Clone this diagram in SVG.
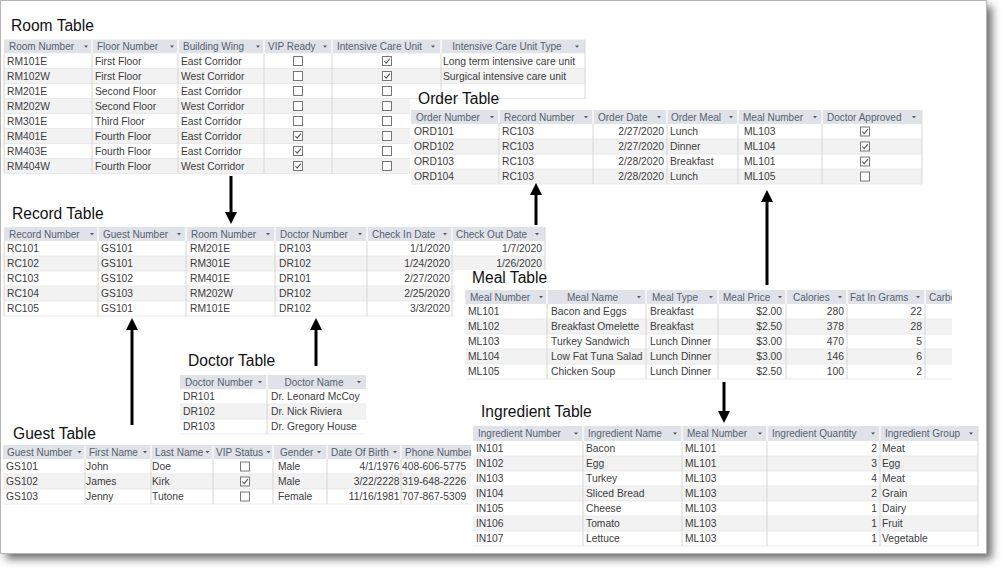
<svg xmlns="http://www.w3.org/2000/svg" xmlns:xlink="http://www.w3.org/1999/xlink" width="1003" height="576" viewBox="0 0 1003 576">
<style>
.ttl{font-family:"Liberation Sans",Arial,sans-serif;font-size:15.6px;fill:#111}
.h{font-family:"Liberation Sans",Arial,sans-serif;font-size:10px;fill:#56606b}
.t{font-family:"Liberation Sans",Arial,sans-serif;font-size:10.3px;fill:#3c3c3c}
.e{text-anchor:end}
.m{text-anchor:middle}
.hd{fill:#DFE3E9}
.r0{fill:#FFFFFF}
.r1{fill:#F2F2F2}
.hs{stroke:#FFFFFF;stroke-width:1.2;fill:none}
.vg{stroke:#D6D6D6;stroke-width:1;fill:none}
.hg{stroke:#E9E9E9;stroke-width:1;fill:none}
.cov{fill:#FFFFFF}
.cn{stroke:#000;stroke-width:3;fill:none;marker-end:url(#ah)}
</style>
<defs>
<filter id="sh" x="-5%" y="-5%" width="115%" height="115%"><feGaussianBlur stdDeviation="4"/></filter>
<marker id="ah" viewBox="0 0 12 12" refX="2" refY="6" markerWidth="12" markerHeight="12" orient="auto" markerUnits="userSpaceOnUse"><path d="M0,0 L12,6 L0,12 z" fill="#000"/></marker>
<path id="dd" d="M-2,-1 L2,-1 L0,1.3 z" fill="#555"/>
<rect id="cb" x="-4.5" y="-4.5" width="9" height="9" fill="#fff" stroke="#767676" stroke-width="1"/>
<g id="cbk"><rect x="-4.5" y="-4.5" width="9" height="9" fill="#fff" stroke="#767676" stroke-width="1"/><path d="M-2.7,0 L-0.8,2.1 L2.9,-2.4" fill="none" stroke="#555" stroke-width="1.1"/></g>
<clipPath id="mealclip"><rect x="455" y="260" width="497" height="130"/></clipPath>
</defs>

<g id="frame">
<rect x="6" y="6" width="986" height="553" fill="#6d6d6d" filter="url(#sh)"/>
<rect x="0.5" y="0.5" width="986" height="553" fill="#fff" stroke="#b5b5b5"/>
</g>

<g id="room-table">
<text class="ttl" x="11" y="31">Room Table</text>
<rect class="hd" x="4" y="39.5" width="581" height="14"/>
<rect class="r0" x="4" y="53.5" width="581" height="15"/>
<rect class="r1" x="4" y="68.5" width="581" height="15"/>
<rect class="r0" x="4" y="83.5" width="581" height="15"/>
<rect class="r1" x="4" y="98.5" width="581" height="15"/>
<rect class="r0" x="4" y="113.5" width="581" height="15"/>
<rect class="r1" x="4" y="128.5" width="581" height="15"/>
<rect class="r0" x="4" y="143.5" width="581" height="15"/>
<rect class="r1" x="4" y="158.5" width="581" height="15"/>
<path class="hs" d="M92,39.5V53.5M178,39.5V53.5M264,39.5V53.5M332,39.5V53.5M441,39.5V53.5"/>
<path class="hg" d="M4,68.5H585M4,83.5H585M4,98.5H585M4,113.5H585M4,128.5H585M4,143.5H585M4,158.5H585M4,173.5H585"/>
<path class="vg" d="M4,53.5V173.5M92,53.5V173.5M178,53.5V173.5M264,53.5V173.5M332,53.5V173.5M441,53.5V173.5M585,39.5V173.5"/>
<text class="h" x="9" y="50.2">Room Number</text><use href="#dd" x="86" y="46.5"/>
<text class="h" x="97" y="50.2">Floor Number</text><use href="#dd" x="172" y="46.5"/>
<text class="h" x="183" y="50.2">Building Wing</text><use href="#dd" x="258" y="46.5"/>
<text class="h" x="268" y="50.2">VIP Ready</text><use href="#dd" x="325" y="46.5"/>
<text class="h" x="337" y="50.2">Intensive Care Unit</text><use href="#dd" x="433" y="46.5"/>
<text class="h m" x="507" y="50.2">Intensive Care Unit Type</text><use href="#dd" x="577" y="46.5"/>
<text class="t" x="7" y="64.7">RM101E</text><text class="t" x="95" y="64.7">First Floor</text><text class="t" x="181" y="64.7">East Corridor</text><use href="#cb" x="298" y="61"/><use href="#cbk" x="387" y="61"/><text class="t" x="443" y="64.7">Long term intensive care unit</text>
<text class="t" x="7" y="79.7">RM102W</text><text class="t" x="95" y="79.7">First Floor</text><text class="t" x="181" y="79.7">West Corridor</text><use href="#cb" x="298" y="76"/><use href="#cbk" x="387" y="76"/><text class="t" x="443" y="79.7">Surgical intensive care unit</text>
<text class="t" x="7" y="94.7">RM201E</text><text class="t" x="95" y="94.7">Second Floor</text><text class="t" x="181" y="94.7">East Corridor</text><use href="#cb" x="298" y="91"/><use href="#cb" x="387" y="91"/>
<text class="t" x="7" y="109.7">RM202W</text><text class="t" x="95" y="109.7">Second Floor</text><text class="t" x="181" y="109.7">West Corridor</text><use href="#cb" x="298" y="106"/><use href="#cb" x="387" y="106"/>
<text class="t" x="7" y="124.7">RM301E</text><text class="t" x="95" y="124.7">Third Floor</text><text class="t" x="181" y="124.7">East Corridor</text><use href="#cb" x="298" y="121"/><use href="#cb" x="387" y="121"/>
<text class="t" x="7" y="139.7">RM401E</text><text class="t" x="95" y="139.7">Fourth Floor</text><text class="t" x="181" y="139.7">East Corridor</text><use href="#cbk" x="298" y="136"/><use href="#cb" x="387" y="136"/>
<text class="t" x="7" y="154.7">RM403E</text><text class="t" x="95" y="154.7">Fourth Floor</text><text class="t" x="181" y="154.7">East Corridor</text><use href="#cbk" x="298" y="151"/><use href="#cb" x="387" y="151"/>
<text class="t" x="7" y="169.7">RM404W</text><text class="t" x="95" y="169.7">Fourth Floor</text><text class="t" x="181" y="169.7">West Corridor</text><use href="#cbk" x="298" y="166"/><use href="#cb" x="387" y="166"/>
</g>

<g id="order-table">
<rect class="cov" x="410" y="99" width="513" height="86"/>
<text class="ttl" x="418" y="103.5">Order Table</text>
<rect class="hd" x="411" y="110" width="511" height="14"/>
<rect class="r0" x="411" y="124" width="511" height="15"/>
<rect class="r1" x="411" y="139" width="511" height="15"/>
<rect class="r0" x="411" y="154" width="511" height="15"/>
<rect class="r1" x="411" y="169" width="511" height="15"/>
<path class="hs" d="M499,110V124M593,110V124M667,110V124M738,110V124M822,110V124"/>
<path class="hg" d="M411,139H922M411,154H922M411,169H922M411,184H922"/>
<path class="vg" d="M499,124V184M593,124V184M667,124V184M738,124V184M822,124V184M922,110V184"/>
<text class="h" x="416" y="120.7">Order Number</text><use href="#dd" x="492" y="117"/>
<text class="h" x="504" y="120.7">Record Number</text><use href="#dd" x="586" y="117"/>
<text class="h" x="598" y="120.7">Order Date</text><use href="#dd" x="659" y="117"/>
<text class="h" x="671" y="120.7">Order Meal</text><use href="#dd" x="731" y="117"/>
<text class="h" x="743" y="120.7">Meal Number</text><use href="#dd" x="815" y="117"/>
<text class="h" x="827" y="120.7">Doctor Approved</text><use href="#dd" x="914" y="117"/>
<text class="t" x="414" y="135.2">ORD101</text><text class="t" x="502" y="135.2">RC103</text><text class="t e" x="664" y="135.2">2/27/2020</text><text class="t" x="670" y="135.2">Lunch</text><text class="t" x="744" y="135.2">ML103</text><use href="#cbk" x="865" y="131.5"/>
<text class="t" x="414" y="150.2">ORD102</text><text class="t" x="502" y="150.2">RC103</text><text class="t e" x="664" y="150.2">2/27/2020</text><text class="t" x="670" y="150.2">Dinner</text><text class="t" x="744" y="150.2">ML104</text><use href="#cbk" x="865" y="146.5"/>
<text class="t" x="414" y="165.2">ORD103</text><text class="t" x="502" y="165.2">RC103</text><text class="t e" x="664" y="165.2">2/28/2020</text><text class="t" x="670" y="165.2">Breakfast</text><text class="t" x="744" y="165.2">ML101</text><use href="#cbk" x="865" y="161.5"/>
<text class="t" x="414" y="180.2">ORD104</text><text class="t" x="502" y="180.2">RC103</text><text class="t e" x="664" y="180.2">2/28/2020</text><text class="t" x="670" y="180.2">Lunch</text><text class="t" x="744" y="180.2">ML105</text><use href="#cb" x="865" y="176.5"/>
</g>

<g id="record-table">
<text class="ttl" x="12" y="218.5">Record Table</text>
<rect class="hd" x="4" y="227" width="541" height="14"/>
<rect class="r0" x="4" y="241" width="541" height="15"/>
<rect class="r1" x="4" y="256" width="541" height="15"/>
<rect class="r0" x="4" y="271" width="541" height="15"/>
<rect class="r1" x="4" y="286" width="541" height="15"/>
<rect class="r0" x="4" y="301" width="541" height="15"/>
<path class="hs" d="M98,227V241M186,227V241M275,227V241M367,227V241M452,227V241"/>
<path class="hg" d="M4,256H545M4,271H545M4,286H545M4,301H545M4,316H545"/>
<path class="vg" d="M4,241V316M98,241V316M186,241V316M275,241V316M367,241V316M452,241V316M545,227V316"/>
<text class="h" x="9" y="237.7">Record Number</text><use href="#dd" x="92" y="234"/>
<text class="h" x="103" y="237.7">Guest Number</text><use href="#dd" x="179" y="234"/>
<text class="h" x="191" y="237.7">Room Number</text><use href="#dd" x="268" y="234"/>
<text class="h" x="280" y="237.7">Doctor Number</text><use href="#dd" x="360" y="234"/>
<text class="h" x="372" y="237.7">Check In Date</text><use href="#dd" x="445" y="234"/>
<text class="h" x="456" y="237.7">Check Out Date</text><use href="#dd" x="537" y="234"/>
<text class="t" x="7" y="252.2">RC101</text><text class="t" x="101" y="252.2">GS101</text><text class="t" x="190" y="252.2">RM201E</text><text class="t" x="279" y="252.2">DR103</text><text class="t e" x="450" y="252.2">1/1/2020</text><text class="t e" x="542" y="252.2">1/7/2020</text>
<text class="t" x="7" y="267.2">RC102</text><text class="t" x="101" y="267.2">GS101</text><text class="t" x="190" y="267.2">RM301E</text><text class="t" x="279" y="267.2">DR102</text><text class="t e" x="450" y="267.2">1/24/2020</text><text class="t e" x="542" y="266.6">1/26/2020</text>
<text class="t" x="7" y="282.2">RC103</text><text class="t" x="101" y="282.2">GS102</text><text class="t" x="190" y="282.2">RM401E</text><text class="t" x="279" y="282.2">DR101</text><text class="t e" x="450" y="282.2">2/27/2020</text>
<text class="t" x="7" y="297.2">RC104</text><text class="t" x="101" y="297.2">GS103</text><text class="t" x="190" y="297.2">RM202W</text><text class="t" x="279" y="297.2">DR102</text><text class="t e" x="450" y="297.2">2/25/2020</text>
<text class="t" x="7" y="312.2">RC105</text><text class="t" x="101" y="312.2">GS101</text><text class="t" x="190" y="312.2">RM101E</text><text class="t" x="279" y="312.2">DR102</text><text class="t e" x="450" y="312.2">3/3/2020</text>
</g>

<g id="meal-table" clip-path="url(#mealclip)">
<rect class="cov" x="455" y="270" width="497" height="112"/>
<text class="ttl" x="472" y="283">Meal Table</text>
<rect class="hd" x="465" y="290" width="490" height="14"/>
<rect class="r0" x="465" y="304" width="490" height="15"/>
<rect class="r1" x="465" y="319" width="490" height="15"/>
<rect class="r0" x="465" y="334" width="490" height="15"/>
<rect class="r1" x="465" y="349" width="490" height="15"/>
<rect class="r0" x="465" y="364" width="490" height="15"/>
<path class="hs" d="M547,290V304M646,290V304M718,290V304M786,290V304M847,290V304M925,290V304"/>
<path class="hg" d="M465,319H955M465,334H955M465,349H955M465,364H955M465,379H955"/>
<path class="vg" d="M547,304V379M646,304V379M718,304V379M786,304V379M847,304V379M925,304V379"/>
<text class="h" x="470" y="300.7">Meal Number</text><use href="#dd" x="541" y="297"/>
<text class="h m" x="592.5" y="300.7">Meal Name</text><use href="#dd" x="639" y="297"/>
<text class="h" x="652" y="300.7">Meal Type</text><use href="#dd" x="711" y="297"/>
<text class="h" x="723" y="300.7">Meal Price</text><use href="#dd" x="780" y="297"/>
<text class="h" x="793" y="300.7">Calories</text><use href="#dd" x="840" y="297"/>
<text class="h" x="850" y="300.7">Fat In Grams</text><use href="#dd" x="918" y="297"/>
<text class="h" x="929" y="300.7">Carbo</text>
<text class="t" x="468" y="315.2">ML101</text><text class="t" x="551" y="315.2">Bacon and Eggs</text><text class="t" x="650" y="315.2">Breakfast</text><text class="t e" x="782" y="315.2">$2.00</text><text class="t e" x="844" y="315.2">280</text><text class="t e" x="922" y="315.2">22</text>
<text class="t" x="468" y="330.2">ML102</text><text class="t" x="551" y="330.2">Breakfast Omelette</text><text class="t" x="650" y="330.2">Breakfast</text><text class="t e" x="782" y="330.2">$2.50</text><text class="t e" x="844" y="330.2">378</text><text class="t e" x="922" y="330.2">28</text>
<text class="t" x="468" y="345.2">ML103</text><text class="t" x="551" y="345.2">Turkey Sandwich</text><text class="t" x="650" y="345.2">Lunch Dinner</text><text class="t e" x="782" y="345.2">$3.00</text><text class="t e" x="844" y="345.2">470</text><text class="t e" x="922" y="345.2">5</text>
<text class="t" x="468" y="360.2">ML104</text><text class="t" x="551" y="360.2">Low Fat Tuna Salad</text><text class="t" x="650" y="360.2">Lunch Dinner</text><text class="t e" x="782" y="360.2">$3.00</text><text class="t e" x="844" y="360.2">146</text><text class="t e" x="922" y="360.2">6</text>
<text class="t" x="468" y="375.2">ML105</text><text class="t" x="551" y="375.2">Chicken Soup</text><text class="t" x="650" y="375.2">Lunch Dinner</text><text class="t e" x="782" y="375.2">$2.50</text><text class="t e" x="844" y="375.2">100</text><text class="t e" x="922" y="375.2">2</text>
</g>

<g id="doctor-table">
<text class="ttl" x="188" y="366">Doctor Table</text>
<rect class="hd" x="180" y="375" width="186" height="14"/>
<rect class="r0" x="180" y="389" width="186" height="15"/>
<rect class="r1" x="180" y="404" width="186" height="15"/>
<rect class="r0" x="180" y="419" width="186" height="15"/>
<path class="hs" d="M267,375V389"/>
<path class="hg" d="M180,404H366M180,419H366M180,434H366"/>
<path class="vg" d="M267,389V434"/>
<text class="h" x="185" y="385.7">Doctor Number</text><use href="#dd" x="260" y="382"/>
<text class="h m" x="314" y="385.7">Doctor Name</text><use href="#dd" x="359" y="382"/>
<text class="t" x="183" y="400.2">DR101</text><text class="t" x="271" y="400.2">Dr. Leonard McCoy</text>
<text class="t" x="183" y="415.2">DR102</text><text class="t" x="271" y="415.2">Dr. Nick Riviera</text>
<text class="t" x="183" y="430.2">DR103</text><text class="t" x="271" y="430.2">Dr. Gregory House</text>
</g>

<g id="guest-table">
<text class="ttl" x="13" y="439">Guest Table</text>
<rect class="hd" x="3" y="445" width="497" height="14"/>
<rect class="r0" x="3" y="459" width="497" height="15"/>
<rect class="r1" x="3" y="474" width="497" height="15"/>
<rect class="r0" x="3" y="489" width="497" height="15"/>
<path class="hs" d="M85,445V459M151,445V459M213,445V459M273,445V459M327,445V459M401,445V459"/>
<path class="hg" d="M3,474H500M3,489H500M3,504H500"/>
<path class="vg" d="M85,459V504M151,459V504M213,459V504M273,459V504M327,459V504M401,459V504"/>
<text class="h" x="7" y="455.7">Guest Number</text><use href="#dd" x="79.5" y="452"/>
<text class="h" x="89" y="455.7">First Name</text><use href="#dd" x="145" y="452"/>
<text class="h" x="155" y="455.7">Last Name</text><use href="#dd" x="207.5" y="452"/>
<text class="h" x="216" y="455.7">VIP Status</text><use href="#dd" x="268.5" y="452"/>
<text class="h" x="280" y="455.7">Gender</text><use href="#dd" x="319" y="452"/>
<text class="h" x="331" y="455.7">Date Of Birth</text><use href="#dd" x="395" y="452"/>
<text class="h" x="405" y="455.7">Phone Number</text>
<text class="t" x="6" y="470.2">GS101</text><text class="t" x="86" y="470.2">John</text><text class="t" x="152" y="470.2">Doe</text><use href="#cb" x="245" y="466.5"/><text class="t" x="278" y="470.2">Male</text><text class="t e" x="399.5" y="470.2">4/1/1976</text><text class="t" x="402" y="470.2">408-606-5775</text>
<text class="t" x="6" y="485.2">GS102</text><text class="t" x="86" y="485.2">James</text><text class="t" x="152" y="485.2">Kirk</text><use href="#cbk" x="245" y="481.5"/><text class="t" x="278" y="485.2">Male</text><text class="t e" x="399.5" y="485.2">3/22/2228</text><text class="t" x="402" y="485.2">319-648-2226</text>
<text class="t" x="6" y="500.2">GS103</text><text class="t" x="86" y="500.2">Jenny</text><text class="t" x="152" y="500.2">Tutone</text><use href="#cb" x="245" y="496.5"/><text class="t" x="278" y="500.2">Female</text><text class="t e" x="399.5" y="500.2">11/16/1981</text><text class="t" x="402" y="500.2">707-867-5309</text>
</g>

<g id="ingredient-table">
<rect class="cov" x="471" y="422" width="511" height="126"/>
<text class="ttl" x="481" y="417">Ingredient Table</text>
<rect class="hd" x="473" y="426" width="505" height="15"/>
<rect class="r0" x="473" y="441" width="505" height="15"/>
<rect class="r1" x="473" y="456" width="505" height="15"/>
<rect class="r0" x="473" y="471" width="505" height="15"/>
<rect class="r1" x="473" y="486" width="505" height="15"/>
<rect class="r0" x="473" y="501" width="505" height="15"/>
<rect class="r1" x="473" y="516" width="505" height="15"/>
<rect class="r0" x="473" y="531" width="505" height="15"/>
<path class="hs" d="M583,426V441M682,426V441M767,426V441M880,426V441"/>
<path class="hg" d="M473,456H978M473,471H978M473,486H978M473,501H978M473,516H978M473,531H978M473,546H978"/>
<path class="vg" d="M583,441V546M682,441V546M767,441V546M880,441V546M978,426V546"/>
<text class="h" x="478" y="437.2">Ingredient Number</text><use href="#dd" x="576" y="433.5"/>
<text class="h" x="588" y="437.2">Ingredient Name</text><use href="#dd" x="675" y="433.5"/>
<text class="h" x="687" y="437.2">Meal Number</text><use href="#dd" x="760" y="433.5"/>
<text class="h" x="772" y="437.2">Ingredient Quantity</text><use href="#dd" x="873" y="433.5"/>
<text class="h" x="885" y="437.2">Ingredient Group</text><use href="#dd" x="971" y="433.5"/>
<text class="t" x="476" y="452.2">IN101</text><text class="t" x="586" y="452.2">Bacon</text><text class="t" x="685" y="452.2">ML101</text><text class="t e" x="877" y="452.2">2</text><text class="t" x="882" y="452.2">Meat</text>
<text class="t" x="476" y="467.2">IN102</text><text class="t" x="586" y="467.2">Egg</text><text class="t" x="685" y="467.2">ML101</text><text class="t e" x="877" y="467.2">3</text><text class="t" x="882" y="467.2">Egg</text>
<text class="t" x="476" y="482.2">IN103</text><text class="t" x="586" y="482.2">Turkey</text><text class="t" x="685" y="482.2">ML103</text><text class="t e" x="877" y="482.2">4</text><text class="t" x="882" y="482.2">Meat</text>
<text class="t" x="476" y="497.2">IN104</text><text class="t" x="586" y="497.2">Sliced Bread</text><text class="t" x="685" y="497.2">ML103</text><text class="t e" x="877" y="497.2">2</text><text class="t" x="882" y="497.2">Grain</text>
<text class="t" x="476" y="512.2">IN105</text><text class="t" x="586" y="512.2">Cheese</text><text class="t" x="685" y="512.2">ML103</text><text class="t e" x="877" y="512.2">1</text><text class="t" x="882" y="512.2">Dairy</text>
<text class="t" x="476" y="527.2">IN106</text><text class="t" x="586" y="527.2">Tomato</text><text class="t" x="685" y="527.2">ML103</text><text class="t e" x="877" y="527.2">1</text><text class="t" x="882" y="527.2">Fruit</text>
<text class="t" x="476" y="542.2">IN107</text><text class="t" x="586" y="542.2">Lettuce</text><text class="t" x="685" y="542.2">ML103</text><text class="t e" x="877" y="542.2">1</text><text class="t" x="882" y="542.2">Vegetable</text>
</g>

<g id="connectors">
<path class="cn" d="M231,176 V214"/>
<path class="cn" d="M132,425 V328"/>
<path class="cn" d="M316,366 V328"/>
<path class="cn" d="M536,225 V193"/>
<path class="cn" d="M767,285 V200"/>
<path class="cn" d="M724,382 V413"/>
</g>
</svg>
